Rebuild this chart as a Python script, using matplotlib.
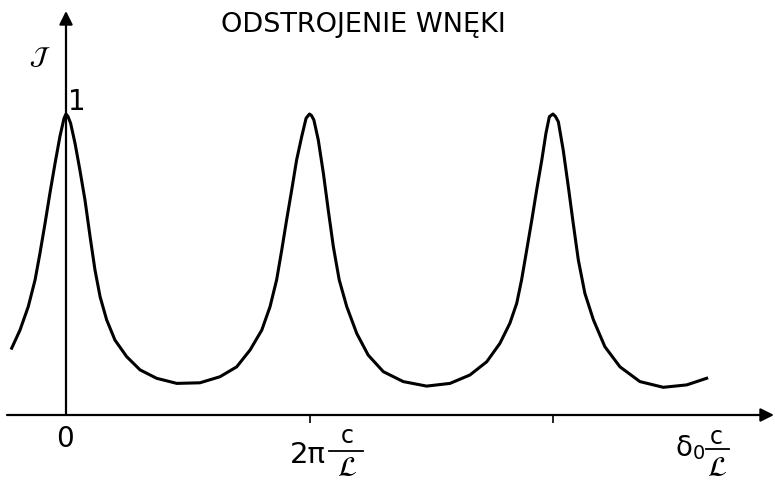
import numpy as np
import matplotlib.pyplot as plt

plt.rcParams['mathtext.fontset'] = 'dejavusans'

# krzywa: x w okresach (2*pi*c/L), y = J (max 1)
x_pts = [-0.223, -0.189, -0.155, -0.127, -0.107, -0.086, -0.066, -0.045, -0.025, -0.008,
         0.0, 0.008, 0.019, 0.037, 0.057, 0.078, 0.099, 0.119, 0.140, 0.167,
         0.201, 0.249, 0.304, 0.372, 0.455, 0.550, 0.632, 0.701, 0.756, 0.804,
         0.838, 0.865, 0.886, 0.906, 0.927, 0.947, 0.968, 0.986, 1.0, 1.008,
         1.018, 1.036, 1.057, 1.077, 1.098, 1.122, 1.153, 1.194, 1.241, 1.303,
         1.385, 1.481, 1.577, 1.659, 1.728, 1.782, 1.823, 1.851, 1.871, 1.892,
         1.913, 1.933, 1.954, 1.971, 1.985, 2.0, 2.01, 2.022, 2.042, 2.063,
         2.083, 2.104, 2.131, 2.166, 2.213, 2.275, 2.357, 2.453, 2.549, 2.631]
y_pts = [0.222, 0.282, 0.360, 0.449, 0.537, 0.637, 0.737, 0.836, 0.925, 0.986,
         1.0, 0.992, 0.969, 0.903, 0.814, 0.714, 0.592, 0.482, 0.393, 0.316,
         0.249, 0.194, 0.150, 0.122, 0.105, 0.107, 0.127, 0.160, 0.216, 0.282,
         0.360, 0.449, 0.548, 0.648, 0.748, 0.847, 0.925, 0.986, 1.0, 0.995,
         0.980, 0.914, 0.803, 0.681, 0.559, 0.449, 0.360, 0.271, 0.199, 0.144,
         0.111, 0.096, 0.105, 0.133, 0.177, 0.238, 0.305, 0.371, 0.449, 0.548,
         0.648, 0.748, 0.847, 0.936, 0.991, 1.0, 0.992, 0.974, 0.880, 0.758,
         0.637, 0.515, 0.404, 0.316, 0.227, 0.160, 0.111, 0.092, 0.100, 0.122]

tick_pos = [1.0, 2.0]
tytul = 'ODSTROJENIE WNĘKI'


def X(px):
    return (px - 66) / 243.5


def Y(py):
    return (415 - py) / 301


fig = plt.figure(figsize=(7.75, 4.82), dpi=100)
ax = fig.add_axes([0, 0, 1, 1])
ax.set_xlim(X(0), X(775))
ax.set_ylim(Y(482), Y(0))
ax.axis('off')

# osie ze strzalkami
strz = dict(arrowstyle='-|>', lw=1.6, color='black', mutation_scale=20,
            shrinkA=0, shrinkB=0)
ax.annotate('', xy=(X(774), 0), xytext=(X(7), 0), arrowprops=strz,
            annotation_clip=False)
ax.annotate('', xy=(0, Y(11)), xytext=(0, 0), arrowprops=strz,
            annotation_clip=False)
ax.vlines(tick_pos, Y(423), 0, color='black', lw=1.2)

ax.plot(x_pts, y_pts, color='black', lw=2.2, solid_joinstyle='round')

ax.text(X(363), Y(32), tytul, ha='center', va='baseline', fontsize=19.5)
ax.text(X(40), Y(57), r'$\mathcal{J}$', ha='center', va='center', fontsize=18)
ax.text(X(77), Y(110), '1', ha='center', va='baseline', fontsize=20)
ax.text(X(65), Y(447), '0', ha='center', va='baseline', fontsize=20)

# 2 pi c/L
ax.text(X(308), Y(463), '2π', ha='center', va='baseline', fontsize=21)
ax.text(X(347), Y(443), 'c', ha='center', va='baseline', fontsize=17)
ax.plot([X(329), X(363)], [Y(451), Y(451)], color='black', lw=1.3)
ax.text(X(347), Y(468), r'$\mathcal{L}$', ha='center', va='center', fontsize=20)

# delta0 c/L
ax.text(X(684), Y(456), 'δ', ha='center', va='baseline', fontsize=20)
ax.text(X(699), Y(459), '0', ha='center', va='baseline', fontsize=14)
ax.text(X(716), Y(444), 'c', ha='center', va='baseline', fontsize=17)
ax.plot([X(706), X(729)], [Y(449), Y(449)], color='black', lw=1.3)
ax.text(X(717), Y(468), r'$\mathcal{L}$', ha='center', va='center', fontsize=20)

fig.savefig('out.png', dpi=100)
